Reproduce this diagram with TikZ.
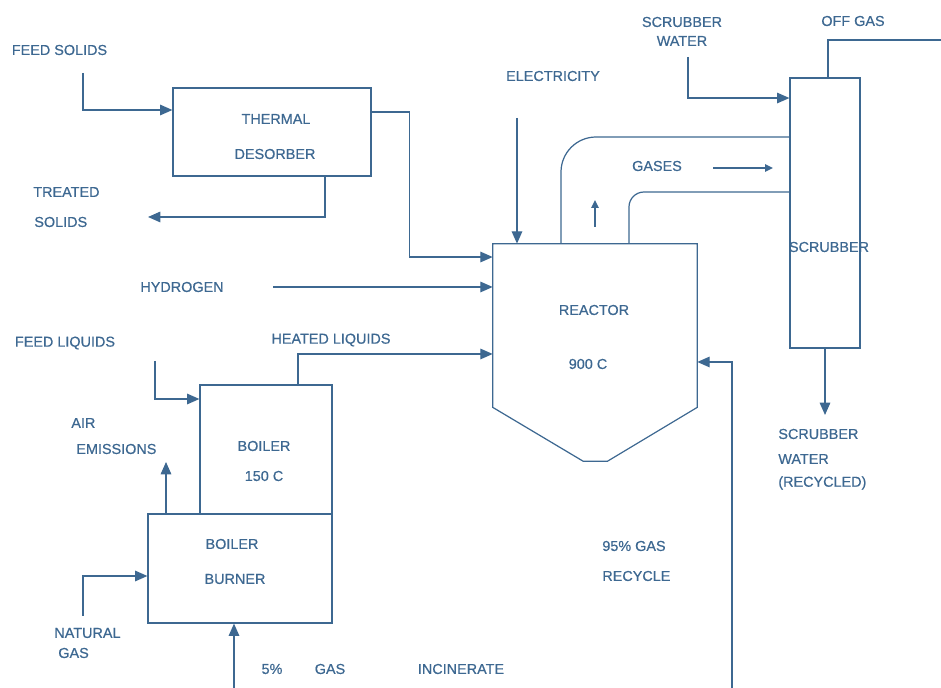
\documentclass[tikz,border=0pt]{standalone}
\usepackage{fontspec}
\setmainfont{Liberation Sans}
\newfontfamily\labelfont{Liberation Sans}[FakeBold=0.6]
\usetikzlibrary{arrows.meta}
\definecolor{FlowBlue}{RGB}{61,104,145}

\begin{document}
\begin{tikzpicture}[
    x=0.02cm, y=-0.02cm,
    unit/.style={draw=FlowBlue,line width=0.7pt,inner sep=0pt},
    lbl/.style={text=FlowBlue,font=\labelfont\fontsize{8.2}{10}\selectfont,inner sep=0pt},
    pipe/.style={FlowBlue,line width=0.7pt},
    arr/.style={-{Triangle[length=7pt,width=6pt]},FlowBlue,line width=0.7pt},
    flow/.style={-{Triangle[length=4.5pt,width=4pt]},FlowBlue,line width=1.4pt}
  ]
  \useasboundingbox (0,0) rectangle (941,688);

  % Process units
  \node[unit,minimum width=3.96cm,minimum height=1.76cm] (desorber) at (272,132) {};
  \node[unit,minimum width=2.64cm,minimum height=2.58cm] (boiler)   at (266,449.5) {};
  \node[unit,minimum width=3.68cm,minimum height=2.18cm] (burner)   at (240,568.5) {};
  \node[unit,minimum width=1.4cm,minimum height=5.4cm]   (scrubber) at (825,213) {};
  \node[inner sep=0pt,minimum width=4.08cm,minimum height=3.26cm] (reactor) at (595,325.5) {};
  \draw[pipe] (reactor.south west) |- (reactor.north east) -- (reactor.south east)
    -- ++(-90,54) -- ++(-24,0) -- cycle;

  % Unit texts
  \node[lbl] (desorber_a) at (276,119) {THERMAL};
  \node[lbl] (desorber_b) at (275,154) {DESORBER};
  \node[lbl] (reactor_a)  at (594,310) {REACTOR};
  \node[lbl] (reactor_b)  at (588,364) {900 C};
  \node[lbl] (boiler_a)   at (264,446) {BOILER};
  \node[lbl] (boiler_b)   at (264,476) {150 C};
  \node[lbl] (burner_a)   at (232,544) {BOILER};
  \node[lbl] (burner_b)   at (235,579) {BURNER};
  \node[lbl] (scrubber_a) at (829,247) {SCRUBBER};

  % Stream labels
  \node[lbl] (feedsol)   at (59.5,50) {FEED SOLIDS};
  \node[lbl,anchor=west] (treated_a) at (33,192) {TREATED};
  \node[lbl,anchor=west] (treated_b) at (34,222) {SOLIDS};
  \node[lbl] (elec)      at (553,76) {ELECTRICITY};
  \node[lbl] (hydrogen)  at (182,287) {HYDROGEN};
  \node[lbl] (feedliq)   at (65,343) {FEED LIQUIDS};
  \node[lbl] (heatliq)   at (331,340) {HEATED LIQUIDS};
  \node[lbl,anchor=west] (air_a) at (71,423) {AIR};
  \node[lbl,anchor=west] (air_b) at (76,449) {EMISSIONS};
  \node[lbl,anchor=west] (natgas_a) at (54,633) {NATURAL};
  \node[lbl,anchor=west] (natgas_b) at (58,653) {GAS};
  \node[lbl] (inc_a) at (272,669) {5\%};
  \node[lbl] (inc_b) at (330,669) {GAS};
  \node[lbl] (inc_c) at (461,669) {INCINERATE};
  \node[lbl,anchor=west] (recyc_a) at (602,546) {95\% GAS};
  \node[lbl,anchor=west] (recyc_b) at (602,576) {RECYCLE};
  \node[lbl] (swin_a)  at (682,22) {SCRUBBER};
  \node[lbl] (swin_b)  at (682,41) {WATER};
  \node[lbl] (offgas)  at (853,21) {OFF GAS};
  \node[lbl] (gases)   at (657,166) {GASES};
  \node[lbl,anchor=west] (swout_a) at (778,434) {SCRUBBER};
  \node[lbl,anchor=west] (swout_b) at (778,459) {WATER};
  \node[lbl,anchor=west] (swout_c) at (778,483) {(RECYCLED)};

  % Free stream ends
  \coordinate (fs_in)   at (83,73);
  \coordinate (ts_out)  at (148,217);
  \coordinate (el_in)   at (517,118);
  \coordinate (h2_in)   at (273,287);
  \coordinate (fl_in)   at (155,361);
  \coordinate (air_out) at (166,462);
  \coordinate (ng_in)   at (83,616);
  \coordinate (inc_in)  at (234,688);
  \coordinate (rec_in)  at (732,688);
  \coordinate (sw_in)   at (688,57);
  \coordinate (off_out) at (941,40);
  \coordinate (sw_out)  at (825,415);
  \coordinate (gas_a)   at (713,168);
  \coordinate (gas_b)   at (773,168);
  \coordinate (up_a)    at (595,227);
  \coordinate (up_b)    at (595,200);

  % Streams
  \draw[arr] (fs_in) |- ([yshift=0.44cm]desorber.west);
  \draw[arr] ([xshift=1.06cm]desorber.south) |- (ts_out);
  \draw[arr] ([yshift=0.4cm]desorber.east) -- ++(38,0) |- ([yshift=1.37cm]reactor.west);
  \draw[arr] (el_in) -- (el_in |- reactor.north);
  \draw[arr] (h2_in) -- (h2_in -| reactor.west);
  \draw[arr] ([xshift=0.64cm]boiler.north) |- ([yshift=-0.57cm]reactor.west);
  \draw[arr] (fl_in) |- ([yshift=1.01cm]boiler.west);
  \draw[arr] (burner.north -| air_out) -- (air_out);
  \draw[arr] (ng_in) |- ([yshift=-0.15cm]burner.west);
  \draw[arr] (inc_in) -- (inc_in |- burner.south);
  \draw[arr] (rec_in) |- ([yshift=-0.73cm]reactor.east);
  \draw[arr] (sw_in) |- ([yshift=2.3cm]scrubber.west);
  \draw[pipe] ([xshift=0.06cm]scrubber.north) |- (off_out);
  \draw[arr] (scrubber.south) -- (sw_out);

  % Gas duct to scrubber
  \draw[pipe,rounded corners=0.7cm] ([xshift=-0.68cm]reactor.north) |- ([yshift=1.52cm]scrubber.west);
  \draw[pipe,rounded corners=0.3cm] ([xshift=0.68cm]reactor.north) |- ([yshift=0.42cm]scrubber.west);
  \draw[flow] (gas_a) -- (gas_b);
  \draw[flow] (up_a) -- (up_b);
\end{tikzpicture}
\end{document}
